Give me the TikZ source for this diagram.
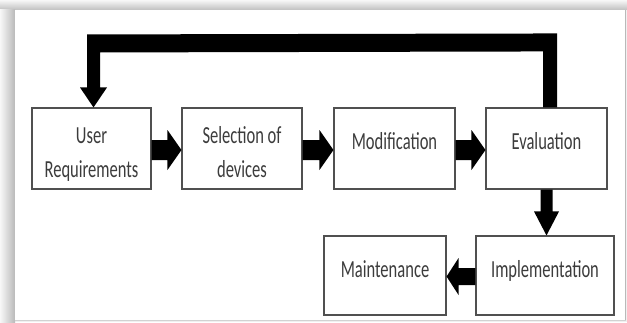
\documentclass[tikz,border=0pt]{standalone}
\usepackage{fontspec}
\newfontfamily\boxfont[FakeStretch=0.675]{Carlito}
\usetikzlibrary{calc}
\definecolor{txt}{HTML}{3C3C3C}
\definecolor{brd}{HTML}{505050}
\newcommand\twoline[2]{\renewcommand\arraystretch{0}\begin{tabular}{@{}c@{}}\rule[-5.2pt]{0pt}{33.7pt}#1\\\rule[-5.2pt]{0pt}{33.7pt}#2\end{tabular}}
\newcommand\topline[1]{\rule[-15.6pt]{0pt}{25.6pt}#1}
\newcommand\lowline[1]{\rule[-13pt]{0pt}{25pt}#1}
\tikzset{
  box/.style={draw=brd, line width=1.1pt, fill=white, inner sep=0pt, text=txt,
    font=\boxfont\fontsize{24.5}{30}\selectfont},
  toprow/.style={box, minimum height=81pt},
  lowrow/.style={box, minimum height=79pt},
  blk/.style={fill=black}
}
\begin{document}
\begin{tikzpicture}[x=1pt,y=1pt]
\useasboundingbox (0,0) rectangle (627,322);
% page shadow and panel
\fill[gray!12] (0,0) rectangle (627,322);
\shade[top color=gray!6, bottom color=gray!50] (0,312) rectangle (627,322);
\shade[left color=gray!6, right color=gray!55] (0,0) rectangle (15,312);
\fill[white] (15,2) rectangle (625,312);
\draw[gray!55, line width=1pt] (625.5,2) -- (625.5,312);
\draw[gray!35, line width=1pt] (15,1.5) -- (626,1.5);

% boxes
\node[toprow, minimum width=119pt] (ur) at (91.5,173.5) {\twoline{User}{Requirements}};
\node[toprow, minimum width=120pt] (sd) at (242,173.5) {\twoline{Selection of}{devices}};
\node[toprow, minimum width=121pt] (mo) at (394.5,173.5) {\topline{Modification}};
\node[toprow, minimum width=121pt] (ev) at (546.5,173.5) {\topline{Evaluation}};
\node[lowrow, minimum width=138pt] (im) at (545,46.5) {\lowline{Implementation}};
\node[lowrow, minimum width=122pt] (ma) at (385,46.5) {\lowline{Maintenance}};

% right-pointing block arrows
\foreach \a/\b in {ur/sd, sd/mo, mo/ev}{
  \fill[blk] ($(\a.east)+(0,8.5)$) -- ($(\b.west)+(-14,8.5)$) -- ($(\b.west)+(-14,18.5)$)
    -- ($(\b.west)+(0,-1.5)$) -- ($(\b.west)+(-14,-21.5)$) -- ($(\b.west)+(-14,-11.5)$)
    -- ($(\a.east)+(0,-11.5)$) -- cycle;
}
% down arrow evaluation -> implementation
\coordinate (dtip) at (ev.south |- im.north);
\fill[blk] ($(ev.south)+(-6,0)$) -- ($(ev.south)+(6,0)$) -- ($(dtip)+(6,24)$) -- ($(dtip)+(12.5,24)$)
  -- (dtip) -- ($(dtip)+(-12.5,24)$) -- ($(dtip)+(-6,24)$) -- cycle;
% left arrow implementation -> maintenance
\fill[blk] ($(im.west)+(0,7.5)$) -- ($(ma.east)+(12,7.5)$) -- ($(ma.east)+(12,17.5)$)
  -- ($(ma.east)+(0,-1)$) -- ($(ma.east)+(12,-19.5)$) -- ($(ma.east)+(12,-9.5)$)
  -- ($(im.west)+(0,-9.5)$) -- cycle;
% feedback arrow evaluation -> user requirements
\coordinate (ftip) at ($(ur.north)+(2,0)$);
\fill[blk] ($(ev.north)+(10.5,0)$) -- ($(ev.north)+(10.5,74)$) -- ($(ftip)+(-6.5,73)$)
  -- ($(ftip)+(-6.5,20)$) -- ($(ftip)+(-13.5,20)$) -- (ftip) -- ($(ftip)+(13.5,20)$)
  -- ($(ftip)+(6.5,20)$) -- ($(ftip)+(6.5,55)$) -- ($(ev.north)+(-3.5,56)$)
  -- ($(ev.north)+(-3.5,0)$) -- cycle;
\end{tikzpicture}
\end{document}
